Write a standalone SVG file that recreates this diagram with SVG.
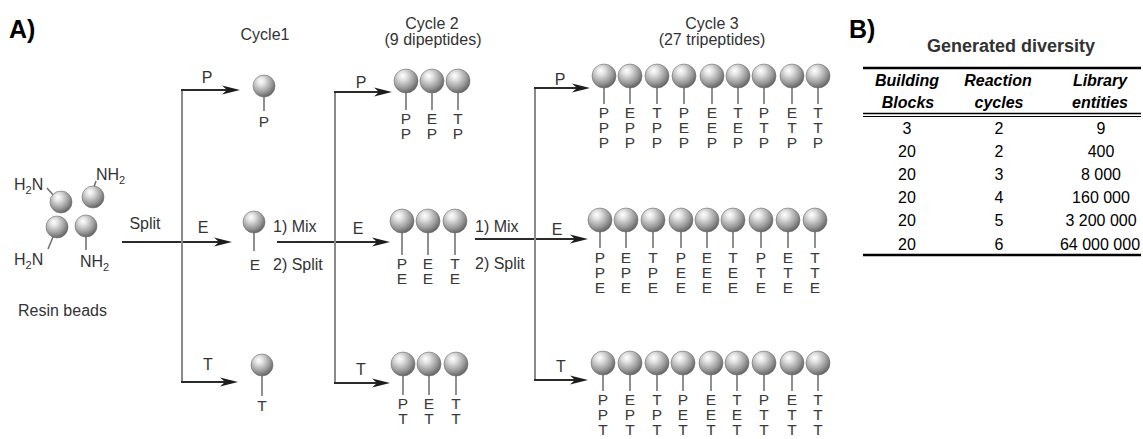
<svg xmlns="http://www.w3.org/2000/svg" width="1143" height="439" viewBox="0 0 1143 439">
  <defs>
    <radialGradient id="beadGrad" cx="0.38" cy="0.32" r="0.7" fx="0.36" fy="0.28">
      <stop offset="0" stop-color="#ffffff"/>
      <stop offset="0.25" stop-color="#e2e2e2"/>
      <stop offset="0.7" stop-color="#9a9a9a"/>
      <stop offset="1" stop-color="#626262"/>
    </radialGradient>
    <marker id="head" markerUnits="userSpaceOnUse" markerWidth="20" markerHeight="10" refX="12" refY="5" orient="auto">
      <path d="M0,0.5 L18,5 L0,9.5 L5,5 Z" fill="#1c1c1c"/>
    </marker>
  </defs>
  <style>
    text { font-family: "Liberation Sans", Arial, Helvetica, sans-serif; fill: #333333; }
    .lbl { font-size: 16px; }
    .mid { text-anchor: middle; }
    .res { font-size: 15.5px; text-anchor: middle; fill: #3a3a3a; }
    .col { font-size: 15.5px; fill: #3a3a3a; writing-mode: vertical-rl; text-orientation: upright; letter-spacing: -2px; }
    .bead { fill: url(#beadGrad); stroke: #6e6e6e; stroke-width: 0.6; }
    .stick { stroke: #747474; stroke-width: 1.6; }
    .arr { stroke: #2a2a2a; stroke-width: 2; fill: none; marker-end: url(#head); }
    .vert { stroke: #8a8a8a; stroke-width: 2; fill: none; }
    .panel { font-size: 25px; font-weight: bold; fill: #000; }
    .tbl { font-size: 16px; text-anchor: middle; fill: #000; }
    .hdr { font-size: 16px; font-weight: bold; font-style: italic; text-anchor: middle; fill: #000; }
    .rule { stroke: #000; fill: none; }
  </style>

  <rect width="1143" height="439" fill="#ffffff"/>

  <!-- panel letters -->
  <text class="panel" x="9" y="38">A)</text>
  <text class="panel" x="849" y="38">B)</text>

  <!-- column headings -->
  <g id="headings">
    <text class="lbl mid" x="265" y="40">Cycle1</text>
    <text class="lbl mid" x="432" y="29">Cycle 2</text>
    <text class="lbl mid" x="433" y="45">(9 dipeptides)</text>
    <text class="lbl mid" x="712" y="29">Cycle 3</text>
    <text class="lbl mid" x="712" y="45">(27 tripeptides)</text>
  </g>

  <!-- starting resin beads -->
  <g id="resin">
    <line class="stick" x1="47" y1="188" x2="54" y2="196"/>
    <line class="stick" x1="96" y1="181" x2="94" y2="187"/>
    <line class="stick" x1="53" y1="237" x2="48" y2="249"/>
    <line class="stick" x1="86" y1="237" x2="86" y2="250"/>
    <circle class="bead" cx="61" cy="202" r="11"/>
    <circle class="bead" cx="93" cy="197" r="11"/>
    <circle class="bead" cx="57" cy="227" r="11"/>
    <circle class="bead" cx="86" cy="226" r="11"/>
    <text class="lbl" x="14" y="190">H<tspan font-size="11" dy="4">2</tspan><tspan dy="-4">N</tspan></text>
    <text class="lbl" x="96" y="180">NH<tspan font-size="11" dy="4">2</tspan></text>
    <text class="lbl" x="14" y="265">H<tspan font-size="11" dy="4">2</tspan><tspan dy="-4">N</tspan></text>
    <text class="lbl" x="80" y="267">NH<tspan font-size="11" dy="4">2</tspan></text>
    <text class="lbl" x="18" y="316">Resin beads</text>
  </g>

  <!-- split / mix connectors -->
  <g id="connectors">
    <line class="arr" x1="122" y1="242" x2="226" y2="242"/>
    <line class="vert" x1="182" y1="89" x2="182" y2="383"/>
    <line class="arr" x1="181" y1="90" x2="234" y2="90"/>
    <line class="arr" x1="181" y1="382" x2="232" y2="382"/>

    <line class="arr" x1="277" y1="242" x2="384" y2="242"/>
    <line class="vert" x1="335" y1="91" x2="335" y2="384"/>
    <line class="arr" x1="334" y1="92" x2="386" y2="92"/>
    <line class="arr" x1="334" y1="383" x2="384" y2="383"/>

    <line class="arr" x1="475" y1="239" x2="582" y2="239"/>
    <line class="vert" x1="535" y1="87" x2="535" y2="381"/>
    <line class="arr" x1="534" y1="88" x2="584" y2="88"/>
    <line class="arr" x1="534" y1="380" x2="582" y2="380"/>

    <text class="lbl mid" x="145" y="229">Split</text>
    <text class="lbl mid" x="207" y="83">P</text>
    <text class="lbl mid" x="203" y="233">E</text>
    <text class="lbl mid" x="208" y="370">T</text>
    <text class="lbl" x="273" y="232">1) Mix</text>
    <text class="lbl" x="273" y="270">2) Split</text>

    <text class="lbl mid" x="361" y="88">P</text>
    <text class="lbl mid" x="358" y="234">E</text>
    <text class="lbl mid" x="361" y="375">T</text>
    <text class="lbl" x="475" y="232">1) Mix</text>
    <text class="lbl" x="475" y="269">2) Split</text>

    <text class="lbl mid" x="560" y="85">P</text>
    <text class="lbl mid" x="557" y="235">E</text>
    <text class="lbl mid" x="561" y="372">T</text>
  </g>

  <!-- cycle 1 products -->
  <g id="c1-P">
    <line class="stick" x1="264" y1="97" x2="264" y2="111"/>
    <circle class="bead" cx="264" cy="86" r="11"/>
    <text class="res" x="264" y="127">P</text>
  </g>
  <g id="c1-E">
    <line class="stick" x1="254" y1="233" x2="254" y2="251"/>
    <circle class="bead" cx="254" cy="222" r="11"/>
    <text class="res" x="255" y="270">E</text>
  </g>
  <g id="c1-T">
    <line class="stick" x1="262" y1="376" x2="262" y2="396"/>
    <circle class="bead" cx="262" cy="365" r="11"/>
    <text class="res" x="262" y="411">T</text>
  </g>

  <!-- cycle 2 products: residue columns read top-down -->
  <g id="c2-P">
    <g class="stick"><line x1="406" y1="93" x2="406" y2="110"/><line x1="432" y1="93" x2="432" y2="110"/><line x1="458" y1="93" x2="458" y2="110"/></g>
    <circle class="bead" cx="406" cy="81" r="12"/><circle class="bead" cx="432" cy="81" r="12"/><circle class="bead" cx="458" cy="81" r="12"/>
    <text class="col" x="406" y="110">PP</text>
    <text class="col" x="432" y="110">EP</text>
    <text class="col" x="458" y="110">TP</text>
  </g>
  <g id="c2-E">
    <g class="stick"><line x1="402" y1="233" x2="402" y2="255"/><line x1="428" y1="233" x2="428" y2="255"/><line x1="455" y1="233" x2="455" y2="255"/></g>
    <circle class="bead" cx="402" cy="221" r="12"/><circle class="bead" cx="428" cy="221" r="12"/><circle class="bead" cx="455" cy="221" r="12"/>
    <text class="col" x="402" y="255">PE</text>
    <text class="col" x="428" y="255">EE</text>
    <text class="col" x="455" y="255">TE</text>
  </g>
  <g id="c2-T">
    <g class="stick"><line x1="403" y1="376" x2="403" y2="395"/><line x1="429" y1="376" x2="429" y2="395"/><line x1="456" y1="376" x2="456" y2="395"/></g>
    <circle class="bead" cx="403" cy="364" r="12"/><circle class="bead" cx="429" cy="364" r="12"/><circle class="bead" cx="456" cy="364" r="12"/>
    <text class="col" x="403" y="395">PT</text>
    <text class="col" x="429" y="395">ET</text>
    <text class="col" x="456" y="395">TT</text>
  </g>

  <!-- cycle 3 products: residue columns read top-down -->
  <g id="c3-P">
    <g class="stick">
      <line x1="604" y1="88" x2="604" y2="104"/><line x1="630" y1="88" x2="630" y2="104"/><line x1="657" y1="88" x2="657" y2="104"/>
      <line x1="684" y1="88" x2="684" y2="104"/><line x1="712" y1="88" x2="712" y2="104"/><line x1="738" y1="88" x2="738" y2="104"/>
      <line x1="764" y1="88" x2="764" y2="104"/><line x1="792" y1="88" x2="792" y2="104"/><line x1="818" y1="88" x2="818" y2="104"/>
    </g>
    <circle class="bead" cx="604" cy="76" r="12"/><circle class="bead" cx="630" cy="76" r="12"/><circle class="bead" cx="657" cy="76" r="12"/>
    <circle class="bead" cx="684" cy="76" r="12"/><circle class="bead" cx="712" cy="76" r="12"/><circle class="bead" cx="738" cy="76" r="12"/>
    <circle class="bead" cx="764" cy="76" r="12"/><circle class="bead" cx="792" cy="76" r="12"/><circle class="bead" cx="818" cy="76" r="12"/>
    <text class="col" x="604" y="104">PPP</text>
    <text class="col" x="630" y="104">EPP</text>
    <text class="col" x="657" y="104">TPP</text>
    <text class="col" x="684" y="104">PEP</text>
    <text class="col" x="712" y="104">EEP</text>
    <text class="col" x="738" y="104">TEP</text>
    <text class="col" x="764" y="104">PTP</text>
    <text class="col" x="792" y="104">ETP</text>
    <text class="col" x="818" y="104">TTP</text>
  </g>
  <g id="c3-E">
    <g class="stick">
      <line x1="600" y1="232" x2="600" y2="248"/><line x1="626" y1="232" x2="626" y2="248"/><line x1="653" y1="232" x2="653" y2="248"/>
      <line x1="681" y1="232" x2="681" y2="248"/><line x1="707" y1="232" x2="707" y2="248"/><line x1="733" y1="232" x2="733" y2="248"/>
      <line x1="761" y1="232" x2="761" y2="248"/><line x1="788" y1="232" x2="788" y2="248"/><line x1="815" y1="232" x2="815" y2="248"/>
    </g>
    <circle class="bead" cx="600" cy="220" r="12"/><circle class="bead" cx="626" cy="220" r="12"/><circle class="bead" cx="653" cy="220" r="12"/>
    <circle class="bead" cx="681" cy="220" r="12"/><circle class="bead" cx="707" cy="220" r="12"/><circle class="bead" cx="733" cy="220" r="12"/>
    <circle class="bead" cx="761" cy="220" r="12"/><circle class="bead" cx="788" cy="220" r="12"/><circle class="bead" cx="815" cy="220" r="12"/>
    <text class="col" x="600" y="249">PPE</text>
    <text class="col" x="626" y="249">EPE</text>
    <text class="col" x="653" y="249">TPE</text>
    <text class="col" x="681" y="249">PEE</text>
    <text class="col" x="707" y="249">EEE</text>
    <text class="col" x="733" y="249">TEE</text>
    <text class="col" x="761" y="249">PTE</text>
    <text class="col" x="788" y="249">ETE</text>
    <text class="col" x="815" y="249">TTE</text>
  </g>
  <g id="c3-T">
    <g class="stick">
      <line x1="603" y1="375" x2="603" y2="391"/><line x1="630" y1="375" x2="630" y2="391"/><line x1="657" y1="375" x2="657" y2="391"/>
      <line x1="683" y1="375" x2="683" y2="391"/><line x1="711" y1="375" x2="711" y2="391"/><line x1="737" y1="375" x2="737" y2="391"/>
      <line x1="764" y1="375" x2="764" y2="391"/><line x1="792" y1="375" x2="792" y2="391"/><line x1="818" y1="375" x2="818" y2="391"/>
    </g>
    <circle class="bead" cx="603" cy="363" r="12"/><circle class="bead" cx="630" cy="363" r="12"/><circle class="bead" cx="657" cy="363" r="12"/>
    <circle class="bead" cx="683" cy="363" r="12"/><circle class="bead" cx="711" cy="363" r="12"/><circle class="bead" cx="737" cy="363" r="12"/>
    <circle class="bead" cx="764" cy="363" r="12"/><circle class="bead" cx="792" cy="363" r="12"/><circle class="bead" cx="818" cy="363" r="12"/>
    <text class="col" x="603" y="391">PPT</text>
    <text class="col" x="630" y="391">EPT</text>
    <text class="col" x="657" y="391">TPT</text>
    <text class="col" x="683" y="391">PET</text>
    <text class="col" x="711" y="391">EET</text>
    <text class="col" x="737" y="391">TET</text>
    <text class="col" x="764" y="391">PTT</text>
    <text class="col" x="792" y="391">ETT</text>
    <text class="col" x="818" y="391">TTT</text>
  </g>

  <!-- diversity table -->
  <g id="diversity-table">
    <text x="1011" y="52" font-size="18" font-weight="bold" text-anchor="middle" fill="#000">Generated diversity</text>
    <line class="rule" x1="863" y1="68" x2="1141" y2="68" stroke-width="2.5"/>
    <text class="hdr" x="907" y="86">Building</text>
    <text class="hdr" x="908" y="108">Blocks</text>
    <text class="hdr" x="998" y="86">Reaction</text>
    <text class="hdr" x="999" y="108">cycles</text>
    <text class="hdr" x="1100" y="86">Library</text>
    <text class="hdr" x="1100" y="108">entities</text>
    <line class="rule" x1="863" y1="113.5" x2="1141" y2="113.5" stroke-width="1.5"/>
    <line class="rule" x1="863" y1="116.5" x2="1141" y2="116.5" stroke-width="1"/>
    <text class="tbl" x="907" y="134">3</text><text class="tbl" x="999" y="134">2</text><text class="tbl" x="1101" y="134">9</text>
    <text class="tbl" x="907" y="157">20</text><text class="tbl" x="999" y="157">2</text><text class="tbl" x="1101" y="157">400</text>
    <text class="tbl" x="907" y="180">20</text><text class="tbl" x="999" y="180">3</text><text class="tbl" x="1101" y="180">8 000</text>
    <text class="tbl" x="907" y="203">20</text><text class="tbl" x="999" y="203">4</text><text class="tbl" x="1101" y="203">160 000</text>
    <text class="tbl" x="907" y="226">20</text><text class="tbl" x="999" y="226">5</text><text class="tbl" x="1101" y="226">3 200 000</text>
    <text class="tbl" x="907" y="250">20</text><text class="tbl" x="999" y="250">6</text><text class="tbl" x="1100" y="250">64 000 000</text>
    <line class="rule" x1="863" y1="255" x2="1141" y2="255" stroke-width="2.5"/>
  </g>
</svg>
